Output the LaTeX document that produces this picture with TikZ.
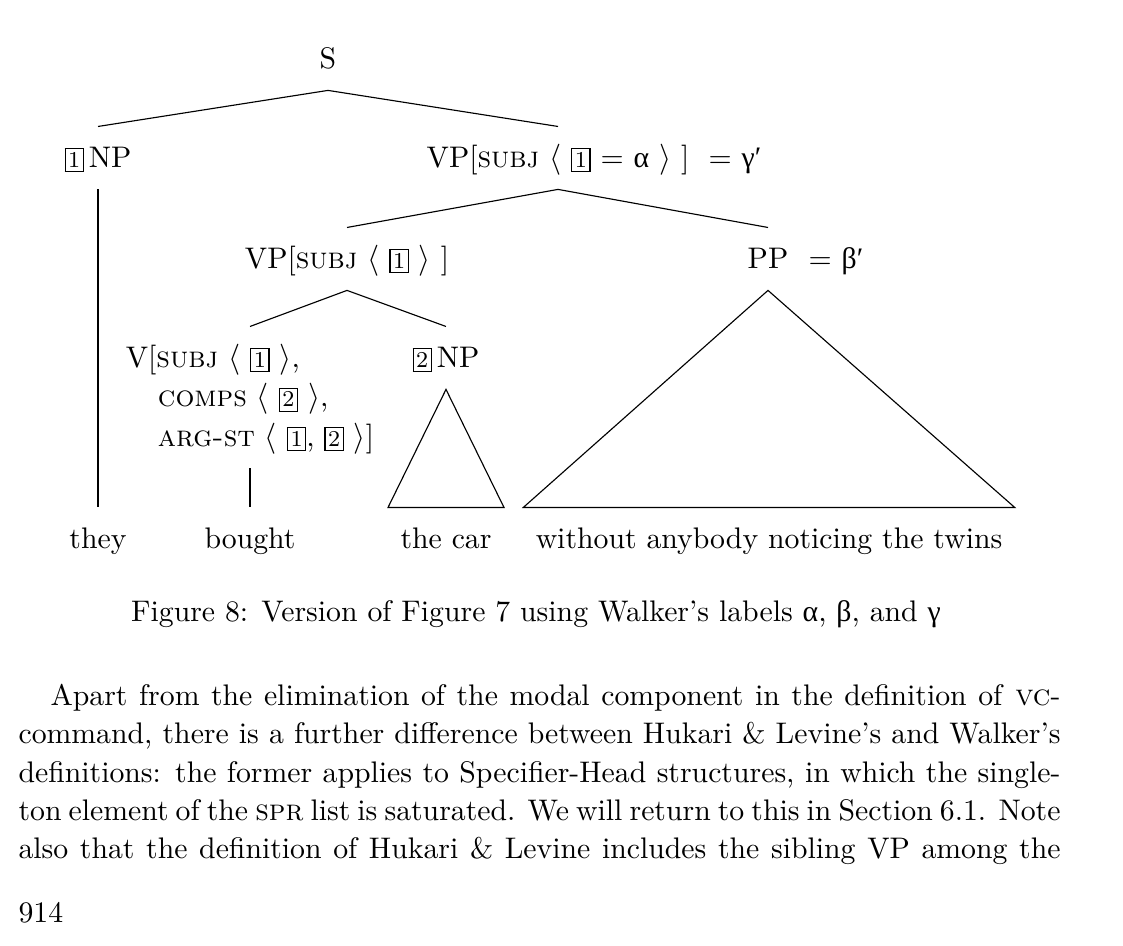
\documentclass[tikz,border=0pt]{standalone}
\usepackage{fontspec}
\newfontfamily\grk{Liberation Serif}
\newcommand{\numbox}[1]{{\setlength{\fboxsep}{0.9pt}\fbox{\rule[-0.6pt]{0pt}{5.9pt}\footnotesize #1}}}
\newcommand{\ga}{{\grk α}}
\newcommand{\gb}{{\grk β}}
\newcommand{\gc}{{\grk γ}}

\begin{document}
\begin{tikzpicture}[x=0.3528pt,y=-0.3528pt,
   every node/.style={font=\fontsize{10.5pt}{13.95pt}\selectfont},
   cat/.style={anchor=base,text height=7.6pt,text depth=1.2pt,inner ysep=6.5pt,inner xsep=4.2pt},
   txt/.style={anchor=base west,inner sep=0pt}]
   \useasboundingbox (0,0) rectangle (1123,945);

   \node[cat] (s) at (328,68) {S};
   \node[cat] (np1) at (98,167) {\numbox{1}\,NP};
   \node[cat] (vp1) at (558,167) {VP[\textsc{subj} $\langle$ \numbox{1} = \ga{} $\rangle$ ]};
   \node[txt] (gam) at (708,167) {= {\grk γ′}};
   \node[cat] (vp2) at (347,268) {VP[\textsc{subj} $\langle$ \numbox{1} $\rangle$ ]};
   \node[cat] (pp) at (768,268) {PP};
   \node[txt] (bet) at (808,268) {= {\grk β′}};
   \node[cat,text depth=29.1pt] (v) at (250,367) {\begin{tabular}[t]{@{}l@{}}
      V[\textsc{subj} $\langle$ \numbox{1} $\rangle$,\\
      \hspace*{11.3pt}\textsc{comps} $\langle$ \numbox{2} $\rangle$,\\
      \hspace*{11.3pt}\textsc{arg-st} $\langle$ \numbox{1}, \numbox{2} $\rangle$]\end{tabular}};
   \node[cat] (np2) at (446,367) {\numbox{2}\,NP};

   \node[cat] (they) at (98,548) {they};
   \node[cat] (bought) at (250,548) {bought};
   \node[cat] (car) at (446,548) {the car};
   \node[cat] (twins) at (769,548) {without anybody noticing the twins};

   \draw (s.south) -- (np1.north);
   \draw (s.south) -- (vp1.north);
   \draw (np1.south) -- (they.north);
   \draw (vp1.south) -- (vp2.north);
   \draw (vp1.south) -- (pp.north);
   \draw (vp2.south) -- (v.north);
   \draw (vp2.south) -- (np2.north);
   \draw (v.south) -- (bought.north);
   \draw (np2.south) -- (car.north west) -- (car.north east) -- cycle;
   \draw (pp.south) -- (twins.north west) -- (twins.north east) -- cycle;

   \node[anchor=base,inner sep=0pt] (caption) at (536,621)
      {Figure 8: Version of Figure 7 using Walker’s labels \ga, \gb, and \gc};

   \node[txt] (l1) at (50,705) {\makebox[356.3pt][s]{Apart from the elimination of the modal component in the definition of \textsc{vc}-}};
   \node[txt] (l2) at (18,743) {\makebox[367.6pt][s]{command, there is a further difference between Hukari \& Levine’s and Walker’s}};
   \node[txt] (l3) at (18,782) {\makebox[367.6pt][s]{definitions: the former applies to Specifier-Head structures, in which the single-}};
   \node[txt] (l4) at (18,820) {\makebox[367.6pt][s]{ton element of the \textsc{spr} list is saturated. We will return to this in Section 6.1. Note}};
   \node[txt] (l5) at (18,858) {\makebox[367.6pt][s]{also that the definition of Hukari \& Levine includes the sibling VP among the}};
   \node[txt] (page) at (18,922) {914};
\end{tikzpicture}
\end{document}
